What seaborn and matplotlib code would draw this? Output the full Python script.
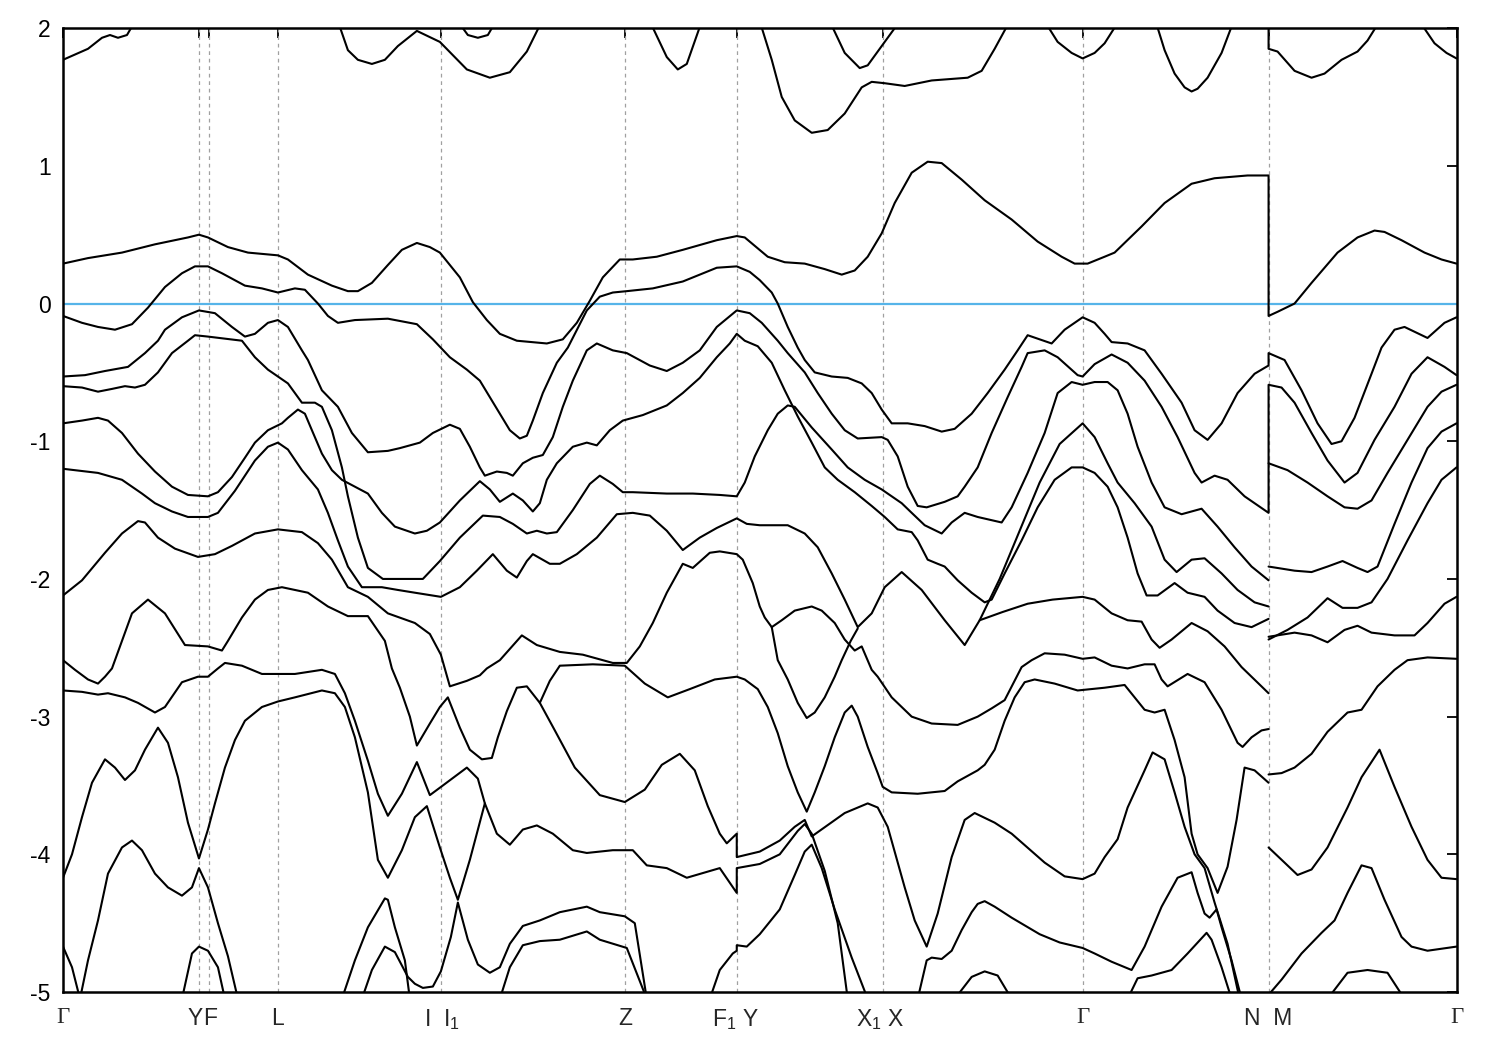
import matplotlib
matplotlib.use("Agg")
import matplotlib.pyplot as plt
import seaborn as sns
import pandas as pd

# high-symmetry points along the k-path
kpt_pos = [0.00, 1.36, 1.46, 2.15, 3.78, 5.62, 6.74, 8.20, 10.20, 12.06, 13.94]
kpt_labels = ["Γ", "Y", "F", "L", "I  I$_1$", "Z", "F$_1$ Y", "X$_1$ X", "Γ", "N  M", "Γ"]
kpt_nudge = [0, -3, 1, 0, 1, 0, -1, -2, 0, 0, 0]  # small label offsets in points
energy_ticks = [-5, -4, -3, -2, -1, 0, 1, 2]

# band energies (eV) read along the path, (k, E)
c3a = [(0.00, 1.77), (0.25, 1.85), (0.39, 1.93), (0.47, 1.95), (0.55, 1.93), (0.64, 1.95), (0.72, 2.05)]
c3b = [(2.75, 2.05), (2.85, 1.84), (2.95, 1.77), (3.09, 1.74), (3.22, 1.77), (3.35, 1.87), (3.54, 1.98),
       (3.77, 1.90), (4.04, 1.70), (4.27, 1.64), (4.47, 1.68), (4.64, 1.83), (4.79, 2.05)]
c3c = [(3.95, 2.05), (4.05, 1.95), (4.15, 1.93), (4.25, 1.95), (4.33, 2.05)]
c3d = [(5.87, 2.05), (6.04, 1.79), (6.15, 1.70), (6.24, 1.74), (6.39, 2.05)]
c3e = [(6.97, 2.05), (7.09, 1.77), (7.19, 1.50), (7.32, 1.33), (7.49, 1.24), (7.65, 1.26), (7.82, 1.38),
       (7.99, 1.57), (8.09, 1.61), (8.22, 1.60), (8.42, 1.58), (8.69, 1.62), (9.05, 1.64), (9.19, 1.69),
       (9.32, 1.85), (9.47, 2.05)]
c3f = [(7.67, 2.05), (7.82, 1.82), (7.97, 1.71), (8.05, 1.73), (8.20, 1.88), (8.37, 2.05)]
c3g = [(9.82, 2.05), (9.95, 1.90), (10.09, 1.82), (10.20, 1.78), (10.32, 1.82), (10.42, 1.89), (10.56, 2.05)]
c3h = [(10.93, 2.05), (11.02, 1.84), (11.12, 1.67), (11.22, 1.57), (11.29, 1.54), (11.35, 1.56),
       (11.45, 1.64), (11.59, 1.82), (11.71, 2.05)]
c3i = [(12.06, 2.20), (12.06, 1.85), (12.15, 1.83), (12.32, 1.69), (12.49, 1.64), (12.62, 1.67),
       (12.79, 1.77), (12.95, 1.83), (13.05, 1.91), (13.17, 2.05)]
c3j = [(13.57, 2.05), (13.72, 1.89), (13.84, 1.82), (13.94, 1.78)]

c2 = [(0.00, 0.29), (0.25, 0.33), (0.59, 0.37), (0.92, 0.43), (1.25, 0.48), (1.36, 0.50), (1.45, 0.48),
      (1.65, 0.41), (1.85, 0.37), (2.15, 0.35), (2.25, 0.32), (2.45, 0.21), (2.69, 0.13), (2.85, 0.09),
      (2.95, 0.09), (3.09, 0.15), (3.25, 0.28), (3.39, 0.39), (3.54, 0.44), (3.67, 0.41), (3.77, 0.37),
      (3.97, 0.19), (4.10, 0.01), (4.24, -0.12), (4.37, -0.22), (4.54, -0.27), (4.84, -0.29), (5.00, -0.26),
      (5.14, -0.14), (5.27, 0.02), (5.40, 0.19), (5.57, 0.32), (5.70, 0.32), (5.94, 0.34), (6.20, 0.39),
      (6.54, 0.46), (6.74, 0.49), (6.82, 0.48), (7.05, 0.34), (7.22, 0.30), (7.42, 0.29), (7.62, 0.25),
      (7.79, 0.21), (7.92, 0.24), (8.05, 0.34), (8.19, 0.51), (8.32, 0.73), (8.49, 0.95), (8.65, 1.03),
      (8.79, 1.02), (8.99, 0.90), (9.22, 0.75), (9.49, 0.61), (9.75, 0.45), (9.99, 0.34), (10.12, 0.29),
      (10.25, 0.29), (10.42, 0.34), (10.52, 0.37), (10.79, 0.56), (11.02, 0.73), (11.29, 0.87),
      (11.52, 0.91), (11.85, 0.93), (12.06, 0.93), (12.06, -0.09), (12.15, -0.06), (12.32, 0.00),
      (12.49, 0.15), (12.75, 0.37), (12.95, 0.48), (13.12, 0.53), (13.22, 0.52), (13.39, 0.46),
      (13.62, 0.37), (13.79, 0.32), (13.94, 0.29)]

v1 = [(0.00, -0.09), (0.19, -0.14), (0.35, -0.17), (0.52, -0.19), (0.69, -0.15), (0.85, -0.03), (1.02, 0.12),
      (1.19, 0.22), (1.32, 0.27), (1.45, 0.27), (1.59, 0.22), (1.82, 0.13), (1.99, 0.11), (2.15, 0.08),
      (2.32, 0.11), (2.42, 0.10), (2.55, 0.00), (2.65, -0.09), (2.75, -0.14), (2.92, -0.12), (3.25, -0.11),
      (3.54, -0.15), (3.70, -0.26), (3.87, -0.39), (4.04, -0.48), (4.17, -0.56), (4.27, -0.68), (4.37, -0.80),
      (4.47, -0.92), (4.57, -0.98), (4.64, -0.96), (4.70, -0.85), (4.80, -0.65), (4.94, -0.43), (5.05, -0.32),
      (5.24, -0.05), (5.37, 0.05), (5.50, 0.08), (5.64, 0.09), (5.90, 0.11), (6.20, 0.16), (6.54, 0.26),
      (6.74, 0.27), (6.87, 0.23), (6.97, 0.17), (7.09, 0.08), (7.15, 0.00), (7.25, -0.17), (7.35, -0.32),
      (7.42, -0.41), (7.52, -0.50), (7.69, -0.53), (7.85, -0.54), (7.99, -0.58), (8.09, -0.65), (8.19, -0.77),
      (8.29, -0.87), (8.45, -0.87), (8.62, -0.89), (8.79, -0.93), (8.92, -0.91), (9.09, -0.80), (9.25, -0.65),
      (9.42, -0.48), (9.55, -0.34), (9.65, -0.23), (9.89, -0.29), (10.02, -0.19), (10.20, -0.10),
      (10.32, -0.14), (10.42, -0.22), (10.49, -0.28), (10.65, -0.29), (10.82, -0.34), (10.99, -0.51),
      (11.19, -0.72), (11.32, -0.92), (11.45, -0.99), (11.59, -0.87), (11.75, -0.65), (11.92, -0.51),
      (12.06, -0.45), (12.06, -0.36), (12.22, -0.41), (12.39, -0.63), (12.55, -0.87), (12.69, -1.02),
      (12.79, -1.00), (12.92, -0.83), (13.09, -0.51), (13.19, -0.32), (13.32, -0.19), (13.42, -0.17),
      (13.65, -0.25), (13.82, -0.14), (13.94, -0.10)]

v2 = [(0.00, -0.53), (0.22, -0.52), (0.42, -0.49), (0.65, -0.46), (0.82, -0.36), (0.95, -0.27), (1.02, -0.19),
      (1.19, -0.10), (1.36, -0.05), (1.52, -0.07), (1.69, -0.17), (1.82, -0.24), (1.92, -0.22), (2.05, -0.14),
      (2.15, -0.12), (2.25, -0.17), (2.39, -0.34), (2.45, -0.41), (2.59, -0.63), (2.75, -0.75), (2.89, -0.94),
      (3.05, -1.08), (3.25, -1.07), (3.37, -1.05), (3.57, -1.01), (3.70, -0.94), (3.87, -0.88), (3.97, -0.91),
      (4.07, -1.04), (4.17, -1.19), (4.22, -1.25), (4.34, -1.22), (4.44, -1.23), (4.50, -1.25), (4.60, -1.16),
      (4.70, -1.12), (4.80, -1.10), (4.90, -0.97), (5.00, -0.75), (5.10, -0.56), (5.24, -0.34), (5.34, -0.29),
      (5.50, -0.34), (5.64, -0.36), (5.87, -0.45), (6.04, -0.49), (6.20, -0.43), (6.37, -0.34), (6.54, -0.17),
      (6.74, -0.05), (6.87, -0.07), (6.99, -0.14), (7.15, -0.27), (7.25, -0.36), (7.42, -0.50), (7.55, -0.65),
      (7.69, -0.80), (7.82, -0.92), (7.95, -0.98), (8.19, -0.97), (8.25, -0.99), (8.35, -1.11), (8.45, -1.33),
      (8.55, -1.47), (8.64, -1.48), (8.82, -1.44), (8.95, -1.40), (9.02, -1.33), (9.15, -1.19), (9.29, -0.94),
      (9.45, -0.68), (9.59, -0.46), (9.65, -0.36), (9.82, -0.34), (9.95, -0.39), (10.15, -0.52), (10.20, -0.53),
      (10.32, -0.44), (10.49, -0.37), (10.65, -0.43), (10.82, -0.56), (10.99, -0.75), (11.15, -0.97),
      (11.32, -1.23), (11.39, -1.30), (11.52, -1.25), (11.65, -1.28), (11.82, -1.40), (12.06, -1.52),
      (12.06, -0.59), (12.19, -0.61), (12.32, -0.72), (12.49, -0.94), (12.65, -1.14), (12.82, -1.30),
      (12.95, -1.23), (13.12, -0.99), (13.32, -0.75), (13.49, -0.51), (13.65, -0.39), (13.82, -0.46),
      (13.94, -0.52)]

v3 = [(0.00, -0.60), (0.19, -0.61), (0.35, -0.64), (0.49, -0.62), (0.62, -0.60), (0.72, -0.61), (0.82, -0.59),
      (0.95, -0.50), (1.09, -0.36), (1.25, -0.27), (1.32, -0.23), (1.45, -0.24), (1.79, -0.27), (1.92, -0.39),
      (2.05, -0.48), (2.15, -0.53), (2.25, -0.58), (2.39, -0.72), (2.52, -0.72), (2.59, -0.75), (2.69, -0.92),
      (2.79, -1.19), (2.85, -1.40), (2.95, -1.70), (3.05, -1.92), (3.20, -2.00), (3.37, -2.00), (3.60, -2.00),
      (3.77, -1.87), (3.97, -1.70), (4.20, -1.54), (4.37, -1.55), (4.50, -1.60), (4.64, -1.67), (4.74, -1.65),
      (4.84, -1.67), (4.94, -1.66), (5.10, -1.50), (5.27, -1.31), (5.37, -1.25), (5.50, -1.31), (5.60, -1.37),
      (5.70, -1.37), (6.04, -1.38), (6.30, -1.38), (6.57, -1.39), (6.74, -1.40), (6.82, -1.30), (6.92, -1.11),
      (7.05, -0.92), (7.15, -0.80), (7.25, -0.74), (7.32, -0.75), (7.49, -0.90), (7.69, -1.06), (7.85, -1.19),
      (8.02, -1.28), (8.19, -1.35), (8.39, -1.45), (8.49, -1.52), (8.62, -1.61), (8.79, -1.67), (8.89, -1.59),
      (9.02, -1.52), (9.15, -1.55), (9.39, -1.59), (9.49, -1.48), (9.65, -1.23), (9.82, -0.94), (9.95, -0.65),
      (10.09, -0.57), (10.20, -0.59), (10.32, -0.57), (10.45, -0.57), (10.55, -0.63), (10.65, -0.80),
      (10.75, -1.04), (10.89, -1.30), (11.02, -1.48), (11.19, -1.53), (11.39, -1.49), (11.55, -1.62),
      (11.72, -1.77), (11.89, -1.91), (12.06, -2.01)]

v4 = [(0.00, -0.87), (0.19, -0.85), (0.35, -0.83), (0.45, -0.85), (0.59, -0.94), (0.75, -1.09), (0.92, -1.22),
      (1.09, -1.33), (1.25, -1.39), (1.45, -1.40), (1.55, -1.37), (1.69, -1.26), (1.82, -1.12), (1.92, -1.01),
      (2.05, -0.92), (2.19, -0.87), (2.25, -0.83), (2.35, -0.77), (2.42, -0.80), (2.49, -0.92), (2.59, -1.09),
      (2.69, -1.21), (2.79, -1.28), (2.92, -1.33), (3.05, -1.38), (3.19, -1.52), (3.32, -1.62), (3.52, -1.67),
      (3.64, -1.65), (3.77, -1.59), (3.97, -1.43), (4.17, -1.29), (4.27, -1.35), (4.37, -1.44), (4.50, -1.38),
      (4.60, -1.43), (4.70, -1.51), (4.77, -1.45), (4.84, -1.28), (4.94, -1.16), (5.10, -1.04), (5.24, -1.01),
      (5.34, -1.03), (5.47, -0.92), (5.60, -0.85), (5.80, -0.81), (6.04, -0.74), (6.20, -0.65), (6.37, -0.54),
      (6.54, -0.39), (6.67, -0.29), (6.74, -0.22), (6.82, -0.27), (6.95, -0.31), (7.09, -0.43), (7.22, -0.63),
      (7.35, -0.82), (7.49, -1.01), (7.62, -1.19), (7.75, -1.28), (7.92, -1.37), (8.09, -1.47), (8.22, -1.55),
      (8.35, -1.64), (8.49, -1.66), (8.55, -1.72), (8.65, -1.86), (8.75, -1.89), (8.82, -1.91), (8.95, -2.01),
      (9.09, -2.10), (9.22, -2.17), (9.29, -2.15), (9.42, -1.96), (9.59, -1.72), (9.75, -1.48), (9.92, -1.28),
      (10.09, -1.19), (10.20, -1.19), (10.32, -1.23), (10.45, -1.33), (10.55, -1.48), (10.65, -1.70),
      (10.75, -1.96), (10.84, -2.12), (10.95, -2.12), (11.12, -2.03), (11.25, -2.10), (11.42, -2.13),
      (11.55, -2.23), (11.72, -2.32), (11.89, -2.35), (12.06, -2.29)]

v5 = [(0.00, -1.20), (0.35, -1.23), (0.59, -1.28), (0.79, -1.38), (0.92, -1.45), (1.09, -1.51), (1.25, -1.55),
      (1.45, -1.55), (1.55, -1.52), (1.72, -1.36), (1.92, -1.14), (2.05, -1.04), (2.15, -1.01), (2.25, -1.06),
      (2.39, -1.21), (2.55, -1.35), (2.65, -1.52), (2.75, -1.72), (2.85, -1.91), (2.99, -2.06), (3.19, -2.06),
      (3.35, -2.08), (3.52, -2.10), (3.78, -2.13), (3.97, -2.06), (4.14, -1.94), (4.30, -1.82), (4.44, -1.94),
      (4.54, -1.99), (4.64, -1.87), (4.70, -1.82), (4.87, -1.89), (4.97, -1.89), (5.14, -1.82), (5.34, -1.70),
      (5.54, -1.53), (5.70, -1.52), (5.87, -1.54), (6.04, -1.65), (6.20, -1.79), (6.37, -1.70), (6.54, -1.63),
      (6.74, -1.56), (6.84, -1.60), (6.97, -1.61), (7.25, -1.61), (7.42, -1.67), (7.55, -1.77), (7.69, -1.96),
      (7.82, -2.15), (7.95, -2.35), (8.09, -2.25), (8.22, -2.06), (8.39, -1.95), (8.59, -2.08), (8.82, -2.30),
      (9.02, -2.48), (9.17, -2.30), (9.37, -2.00), (9.57, -1.65), (9.77, -1.30), (9.97, -1.02), (10.20, -0.87),
      (10.32, -0.97), (10.45, -1.16), (10.55, -1.30), (10.72, -1.45), (10.89, -1.62), (11.02, -1.86),
      (11.14, -1.95), (11.29, -1.86), (11.42, -1.85), (11.59, -1.96), (11.75, -2.08), (11.92, -2.17),
      (12.06, -2.20)]

v6 = [(0.00, -2.12), (0.19, -2.01), (0.42, -1.81), (0.59, -1.67), (0.75, -1.58), (0.82, -1.59), (0.95, -1.70),
      (1.12, -1.78), (1.35, -1.84), (1.52, -1.82), (1.69, -1.76), (1.92, -1.67), (2.15, -1.64), (2.39, -1.66),
      (2.55, -1.74), (2.69, -1.86), (2.85, -2.06), (3.05, -2.13), (3.25, -2.25), (3.52, -2.32), (3.67, -2.40),
      (3.78, -2.55), (3.87, -2.78), (4.04, -2.74), (4.17, -2.70), (4.24, -2.65), (4.37, -2.59), (4.59, -2.41),
      (4.74, -2.48), (4.97, -2.53), (5.20, -2.55), (5.50, -2.61), (5.64, -2.61), (5.77, -2.49), (5.90, -2.32),
      (6.04, -2.10), (6.20, -1.89), (6.30, -1.92), (6.47, -1.81), (6.57, -1.80), (6.74, -1.82), (6.80, -1.86),
      (6.90, -2.03), (6.97, -2.20), (7.02, -2.28), (7.09, -2.35), (7.19, -2.30), (7.32, -2.23), (7.49, -2.20),
      (7.59, -2.23), (7.72, -2.32), (7.82, -2.44), (7.92, -2.52), (7.99, -2.49), (8.09, -2.66), (8.15, -2.71),
      (8.29, -2.86), (8.49, -3.00), (8.69, -3.05), (8.95, -3.06), (9.15, -3.00), (9.29, -2.94), (9.42, -2.88),
      (9.59, -2.64), (9.69, -2.59), (9.82, -2.54), (10.02, -2.55), (10.20, -2.58), (10.32, -2.57),
      (10.49, -2.63), (10.65, -2.65), (10.82, -2.62), (10.92, -2.62), (10.99, -2.73), (11.05, -2.78),
      (11.25, -2.69), (11.42, -2.75), (11.59, -2.95), (11.75, -3.19), (11.80, -3.22), (11.89, -3.15),
      (11.99, -3.10), (12.06, -3.09)]

v7 = [(0.00, -2.59), (0.12, -2.66), (0.25, -2.73), (0.35, -2.76), (0.42, -2.71), (0.49, -2.65), (0.69, -2.25),
      (0.85, -2.15), (1.02, -2.25), (1.22, -2.48), (1.45, -2.49), (1.59, -2.52), (1.65, -2.45), (1.79, -2.28),
      (1.92, -2.15), (2.05, -2.08), (2.19, -2.06), (2.45, -2.10), (2.65, -2.20), (2.85, -2.27), (3.05, -2.27),
      (3.22, -2.45), (3.29, -2.65), (3.37, -2.79), (3.47, -3.00), (3.54, -3.21), (3.67, -3.05), (3.77, -2.93),
      (3.85, -2.86), (3.97, -3.08), (4.07, -3.24), (4.19, -3.31), (4.29, -3.30), (4.35, -3.15), (4.44, -2.96),
      (4.54, -2.79), (4.64, -2.78), (4.77, -2.90), (4.87, -2.74), (4.97, -2.63), (5.30, -2.62), (5.62, -2.63),
      (5.82, -2.76), (6.05, -2.86), (6.27, -2.80), (6.52, -2.73), (6.74, -2.71), (6.82, -2.73), (6.95, -2.80),
      (7.05, -2.93), (7.15, -3.12), (7.25, -3.36), (7.35, -3.55), (7.44, -3.69), (7.52, -3.55), (7.62, -3.36),
      (7.72, -3.15), (7.82, -2.97), (7.89, -2.92), (7.95, -3.00), (8.05, -3.22), (8.15, -3.41), (8.20, -3.51),
      (8.29, -3.55), (8.55, -3.56), (8.82, -3.54), (8.95, -3.47), (9.15, -3.39), (9.22, -3.35), (9.32, -3.24),
      (9.42, -3.03), (9.52, -2.86), (9.62, -2.75), (9.72, -2.73), (9.92, -2.76), (10.15, -2.81), (10.42, -2.79),
      (10.62, -2.77), (10.82, -2.95), (10.92, -2.97), (11.02, -2.95), (11.12, -3.17), (11.22, -3.44),
      (11.29, -3.85), (11.35, -4.00), (11.45, -4.10), (11.55, -4.28), (11.65, -4.09), (11.74, -3.75),
      (11.82, -3.37), (11.92, -3.39), (12.06, -3.48)]

v8 = [(0.00, -2.81), (0.19, -2.82), (0.35, -2.84), (0.45, -2.83), (0.62, -2.86), (0.75, -2.90), (0.92, -2.97),
      (1.02, -2.93), (1.19, -2.75), (1.35, -2.71), (1.45, -2.71), (1.55, -2.65), (1.62, -2.61), (1.79, -2.63),
      (1.99, -2.69), (2.15, -2.69), (2.32, -2.69), (2.59, -2.66), (2.72, -2.69), (2.82, -2.83), (2.92, -3.03),
      (3.05, -3.32), (3.15, -3.56), (3.25, -3.72), (3.39, -3.56), (3.54, -3.33), (3.67, -3.57), (3.80, -3.50),
      (4.04, -3.37), (4.15, -3.45), (4.22, -3.63), (4.34, -3.85), (4.47, -3.93), (4.60, -3.82), (4.74, -3.79),
      (4.90, -3.85), (5.10, -3.97), (5.24, -3.99), (5.50, -3.97), (5.70, -3.97), (5.84, -4.08), (6.04, -4.10),
      (6.24, -4.17), (6.57, -4.10), (6.74, -4.28), (6.74, -4.10), (6.97, -4.07), (7.17, -4.00), (7.35, -3.83),
      (7.42, -3.78), (7.49, -3.85), (7.62, -4.12), (7.75, -4.50), (7.85, -5.05)]

v9 = [(0.00, -4.17), (0.09, -4.00), (0.19, -3.73), (0.29, -3.48), (0.42, -3.31), (0.52, -3.37), (0.62, -3.46),
      (0.72, -3.39), (0.82, -3.24), (0.95, -3.08), (1.05, -3.19), (1.15, -3.44), (1.25, -3.77), (1.36, -4.03),
      (1.45, -3.82), (1.52, -3.63), (1.62, -3.37), (1.72, -3.17), (1.82, -3.03), (1.99, -2.93), (2.15, -2.89),
      (2.32, -2.86), (2.59, -2.81), (2.72, -2.83), (2.82, -2.93), (2.92, -3.15), (3.05, -3.55), (3.15, -4.04),
      (3.25, -4.17), (3.39, -3.97), (3.52, -3.73), (3.64, -3.65), (3.77, -3.95), (3.87, -4.17), (3.95, -4.33),
      (4.07, -4.04), (4.22, -3.63)]

v10a = [(0.00, -4.67), (0.09, -4.82), (0.17, -5.05)]
v10b = [(0.17, -5.05), (0.25, -4.77), (0.35, -4.48), (0.45, -4.14), (0.59, -3.95), (0.69, -3.90), (0.79, -3.97),
        (0.92, -4.14), (1.05, -4.24), (1.19, -4.30), (1.29, -4.24), (1.36, -4.10), (1.45, -4.24), (1.55, -4.50),
        (1.65, -4.74), (1.75, -5.05)]
v11 = [(1.19, -5.05), (1.29, -4.72), (1.36, -4.67), (1.45, -4.70), (1.55, -4.82), (1.62, -5.05)]

b1 = [(2.99, -5.05), (3.09, -4.84), (3.22, -4.67), (3.32, -4.71), (3.45, -4.89), (3.52, -4.94), (3.60, -4.97),
      (3.70, -4.96), (3.78, -4.85), (3.88, -4.60), (3.95, -4.35), (4.05, -4.62), (4.15, -4.80), (4.27, -4.86),
      (4.37, -4.82), (4.47, -4.65), (4.60, -4.52), (4.77, -4.48), (4.97, -4.42), (5.24, -4.38), (5.37, -4.42),
      (5.62, -4.45), (5.72, -4.50), (5.84, -5.05)]
b2 = [(2.79, -5.05), (2.92, -4.77), (3.05, -4.53), (3.22, -4.32), (3.25, -4.33), (3.32, -4.53), (3.42, -4.77),
      (3.47, -5.05)]
b3 = [(4.37, -5.05), (4.47, -4.82), (4.60, -4.66), (4.77, -4.63), (4.97, -4.62), (5.24, -4.56), (5.37, -4.62),
      (5.64, -4.68), (5.84, -5.05)]

zu = [(4.77, -2.90), (4.92, -3.10), (5.12, -3.37), (5.37, -3.57), (5.62, -3.62), (5.82, -3.53), (5.99, -3.35),
      (6.17, -3.27), (6.32, -3.39), (6.45, -3.65), (6.57, -3.85), (6.64, -3.92), (6.74, -3.85), (6.74, -4.02),
      (6.97, -3.98), (7.17, -3.90), (7.32, -3.80), (7.42, -3.75), (7.49, -3.87), (7.82, -3.70), (8.05, -3.63),
      (8.15, -3.66), (8.25, -3.80), (8.42, -4.24), (8.52, -4.48), (8.64, -4.67), (8.75, -4.43), (8.89, -4.02),
      (9.02, -3.75), (9.12, -3.70), (9.32, -3.77), (9.49, -3.85), (9.82, -4.06), (10.02, -4.16), (10.20, -4.18),
      (10.32, -4.14), (10.42, -4.02), (10.55, -3.89), (10.65, -3.66), (10.82, -3.39), (10.90, -3.26),
      (11.02, -3.31), (11.12, -3.55), (11.22, -3.80), (11.32, -4.00), (11.42, -4.10), (11.52, -4.35),
      (11.65, -4.65), (11.77, -5.05)]
f1 = [(6.47, -5.05), (6.57, -4.84), (6.70, -4.72), (6.74, -4.70), (6.74, -4.66), (6.84, -4.67), (6.97, -4.58),
      (7.17, -4.40), (7.32, -4.15), (7.42, -3.98), (7.49, -3.93), (7.59, -4.10), (7.72, -4.40), (7.89, -4.75),
      (8.05, -5.05)]
w2 = [(7.09, -2.35), (7.15, -2.59), (7.25, -2.73), (7.35, -2.90), (7.44, -3.01), (7.52, -2.97), (7.62, -2.86),
      (7.72, -2.71), (7.79, -2.59), (7.88, -2.45), (7.95, -2.36)]
w4 = [(8.92, -5.05), (9.09, -4.89), (9.22, -4.85), (9.35, -4.88), (9.49, -5.05)]
x1 = [(8.55, -5.05), (8.64, -4.77), (8.69, -4.75), (8.79, -4.76), (8.89, -4.70), (8.99, -4.55), (9.09, -4.42),
      (9.15, -4.36), (9.22, -4.34), (9.32, -4.38), (9.49, -4.46), (9.77, -4.58), (9.97, -4.64), (10.20, -4.68),
      (10.32, -4.72), (10.49, -4.78), (10.69, -4.84), (10.82, -4.67), (10.99, -4.38), (11.15, -4.17),
      (11.29, -4.13), (11.35, -4.28), (11.42, -4.43), (11.47, -4.46), (11.54, -4.40), (11.59, -4.53),
      (11.69, -4.77), (11.79, -5.05)]
x2 = [(10.65, -5.05), (10.75, -4.90), (10.89, -4.88), (11.09, -4.84), (11.25, -4.72), (11.44, -4.57),
      (11.49, -4.62), (11.59, -4.82), (11.69, -5.05)]

g1 = [(9.17, -2.30), (9.40, -2.24), (9.65, -2.18), (9.90, -2.15), (10.20, -2.13), (10.32, -2.15),
      (10.49, -2.25), (10.65, -2.30), (10.79, -2.31), (10.89, -2.44), (10.97, -2.50), (11.09, -2.44),
      (11.29, -2.32), (11.45, -2.38), (11.62, -2.49), (11.79, -2.64), (12.06, -2.83)]

u3 = [(12.06, -1.16), (12.25, -1.21), (12.45, -1.30), (12.65, -1.40), (12.82, -1.48), (12.95, -1.49),
      (13.09, -1.43), (13.25, -1.23), (13.45, -0.99), (13.65, -0.75), (13.79, -0.64), (13.94, -0.59)]
r1 = [(12.06, -1.91), (12.32, -1.94), (12.49, -1.95), (12.65, -1.91), (12.80, -1.87), (12.95, -1.92),
      (13.05, -1.95), (13.15, -1.91), (13.32, -1.60), (13.49, -1.30), (13.65, -1.05), (13.79, -0.93),
      (13.94, -0.87)]
r2 = [(12.06, -2.42), (12.32, -2.39), (12.49, -2.41), (12.65, -2.46), (12.82, -2.37), (12.95, -2.34),
      (13.09, -2.39), (13.32, -2.41), (13.52, -2.41), (13.65, -2.32), (13.82, -2.18), (13.94, -2.13)]
r7 = [(12.06, -2.44), (12.25, -2.37), (12.45, -2.28), (12.65, -2.14), (12.80, -2.21), (12.95, -2.21),
      (13.09, -2.17), (13.25, -2.00), (13.45, -1.72), (13.65, -1.45), (13.79, -1.28), (13.94, -1.19)]
r3 = [(12.06, -3.42), (12.19, -3.41), (12.32, -3.37), (12.49, -3.27), (12.65, -3.11), (12.85, -2.97),
      (12.99, -2.95), (13.15, -2.78), (13.32, -2.66), (13.45, -2.59), (13.65, -2.57), (13.94, -2.58)]
r4 = [(12.06, -3.95), (12.22, -4.06), (12.35, -4.15), (12.49, -4.11), (12.65, -3.95), (12.85, -3.66),
      (12.99, -3.44), (13.17, -3.24), (13.32, -3.51), (13.49, -3.80), (13.65, -4.04), (13.79, -4.17),
      (13.94, -4.18)]
r5 = [(12.06, -5.02), (12.19, -4.91), (12.39, -4.72), (12.59, -4.57), (12.72, -4.48), (12.85, -4.28),
      (12.99, -4.08), (13.09, -4.10), (13.22, -4.33), (13.39, -4.60), (13.49, -4.67), (13.65, -4.70),
      (13.94, -4.67)]
r6 = [(12.65, -5.05), (12.85, -4.86), (13.05, -4.84), (13.25, -4.86), (13.42, -5.05)]

bands = {
    "c3a": c3a, "c3b": c3b, "c3c": c3c, "c3d": c3d, "c3e": c3e, "c3f": c3f, "c3g": c3g, "c3h": c3h,
    "c3i": c3i, "c3j": c3j, "c2": c2, "v1": v1, "v2": v2, "v3": v3, "v4": v4, "v5": v5, "v6": v6,
    "v7": v7, "v8": v8, "v9": v9, "v10a": v10a, "v10b": v10b, "v11": v11,
    "b1": b1, "b2": b2, "b3": b3, "zu": zu, "f1": f1, "w2": w2, "w4": w4, "x1": x1, "x2": x2,
    "g1": g1, "u3": u3, "r1": r1, "r2": r2, "r7": r7, "r3": r3, "r4": r4, "r5": r5, "r6": r6,
}

frames = [pd.DataFrame(pts, columns=["k", "E"]).assign(band=name) for name, pts in bands.items()]
df = pd.concat(frames, ignore_index=True)

sns.set_theme(style="white")
plt.rcParams["font.family"] = ["Liberation Sans", "DejaVu Sans"]
plt.rcParams["mathtext.fontset"] = "custom"
plt.rcParams["mathtext.rm"] = "Liberation Sans"
plt.rcParams["mathtext.it"] = "Liberation Sans"

fig = plt.figure(figsize=(15, 10.5), dpi=100)
ax = fig.add_axes([0.042, 0.0552, 0.929, 0.918])

for kp in kpt_pos[1:-1]:
    ax.axvline(kp, color="#a0a0a0", lw=0.9, ls=(0, (3, 3)), zorder=1)
ax.axhline(0, color="#56b4e9", lw=1.6, zorder=2)

sns.lineplot(data=df, x="k", y="E", units="band", estimator=None, sort=False,
             color="black", linewidth=1.5, legend=False, ax=ax, zorder=3,
             solid_joinstyle="round")

ax.set_xlim(kpt_pos[0], kpt_pos[-1])
ax.set_ylim(-5, 2)
ax.set_xticks(kpt_pos)
ax.set_xticklabels([])
# k-point labels placed under their ticks
for kp, lab, dx in zip(kpt_pos, kpt_labels, kpt_nudge):
    fam = ["Liberation Serif", "DejaVu Serif"] if lab == "Γ" else ["Liberation Sans", "DejaVu Sans"]
    ax.annotate(lab, xy=(kp, 0), xycoords=("data", "axes fraction"), xytext=(dx, -11),
                textcoords="offset points", ha="center", va="top", fontsize=16.5, family=fam)
ax.set_yticks(energy_ticks)
ax.set_yticklabels([str(t) for t in energy_ticks])
ax.set_xlabel("")
ax.set_ylabel("")
ax.tick_params(axis="both", direction="in", length=7, width=1.3, labelsize=16.5,
               top=True, right=True, colors="black")
ax.tick_params(axis="y", pad=9)
for sp in ax.spines.values():
    sp.set_linewidth(1.8)
    sp.set_color("black")

fig.savefig("out.png", dpi=100)
